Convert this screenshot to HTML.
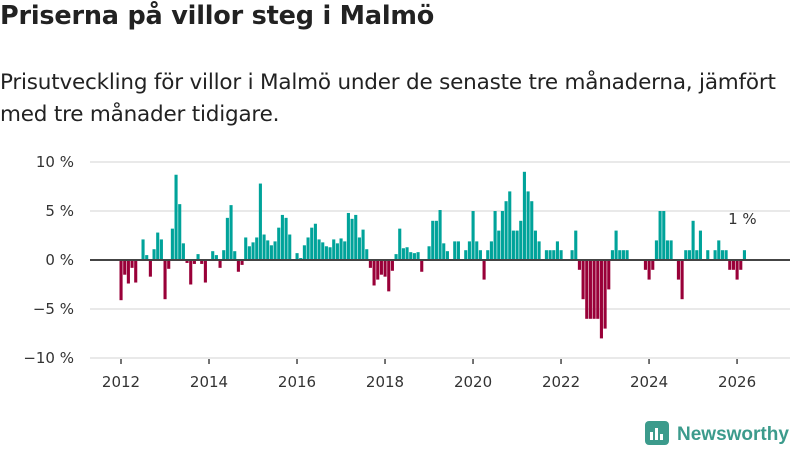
<!DOCTYPE html>
<html><head><meta charset="utf-8"><style>
body{margin:0;width:800px;height:450px;background:#fff;font-family:"DejaVu Sans","Liberation Sans",sans-serif;overflow:hidden;position:relative}
#t{position:absolute;left:0;top:1px;font-size:25.5px;font-weight:bold;color:#222;margin:0;letter-spacing:-0.2px}
#s{position:absolute;left:0;top:67px;font-size:21.5px;line-height:32px;color:#222;width:820px;letter-spacing:-0.2px}
svg{position:absolute;left:0;top:0}
</style></head><body>
<h1 id="t">Priserna på villor steg i Malmö</h1>
<div id="s">Prisutveckling för villor i Malmö under de senaste tre månaderna, jämfört<br>med tre månader tidigare.</div>
<svg id="c" width="800" height="450"></svg>
<script>
const values=[-4.1,-1.5,-2.4,-0.8,-2.3,0,2.1,0.5,-1.7,1.1,2.8,2.1,-4.0,-0.9,3.2,8.7,5.7,1.7,-0.3,-2.5,-0.4,0.6,-0.4,-2.3,0,0.9,0.5,-0.8,1.0,4.3,5.6,0.9,-1.2,-0.5,2.3,1.4,1.8,2.3,7.8,2.6,2.0,1.5,1.9,3.3,
4.6,4.3,2.6,0,0.7,0.2,1.5,2.3,3.3,3.7,2.1,1.8,1.4,1.3,2.1,1.7,2.2,1.9,4.8,4.2,4.6,2.3,3.1,1.1,-0.8,-2.6,-2.0,-1.5,-1.7,-3.2,-1.1,0.6,3.2,1.2,1.3,0.8,0.7,0.8,-1.2,0,1.4,4.0,4.0,5.1,
1.7,0.9,0,1.9,1.9,0,1.0,1.9,5.0,1.9,1.0,-2.0,1.0,1.9,5.0,3.0,5.0,6.0,7.0,3.0,3.0,4.0,9.0,7.0,6.0,3.0,1.9,0,1.0,1.0,1.0,1.9,1.0,0,0,1.0,3.0,-1.0,-4.0,-6,-6,-6,-6,-8,-7,-3,1,3,1,1,1,0,0,0,0,-1,-2,-1,2,5,5,2,2,0,-2,-4,1,1,4,1,3,0,1,0,1,2,1,1,-1,-1,-2,-1,1];
const startYear=2012;
const yTicks=[10,5,0,-5,-10];
const yTickLabels=["10 %","5 %","0 %","−5 %","−10 %"];
const xTickYears=[2012,2014,2016,2018,2020,2022,2024,2026];
const NS="http://www.w3.org/2000/svg";
const svg=document.getElementById('c');
const FF='DejaVu Sans, Liberation Sans, sans-serif';
const y=v=>260-v*9.8;
const x=m=>121+m*3.667;
function mk(tag,attrs,parent){const e=document.createElementNS(NS,tag);for(const k in attrs)e.setAttribute(k,attrs[k]);(parent||svg).appendChild(e);return e;}
yTicks.forEach((t,i)=>{
 const g=mk('line',{x1:90,x2:790,y1:y(t),y2:y(t),stroke:'#e2e2e2','stroke-width':1.5});
 
 
 const tx=mk('text',{x:74,y:y(t)+5,'text-anchor':'end','font-size':15,fill:'#333','font-family':FF});
 tx.textContent=yTickLabels[i];
 
 
});
values.forEach((v,i)=>{
 if(v===0)return;
 const r=mk('rect',{x:x(i)-1.5,width:3.1,y:Math.min(y(v),y(0)),height:Math.abs(y(v)-y(0)),fill:v>0?'#00a39a':'#990038'});
 
 
});
const z=mk('line',{x1:90,x2:790,y1:y(0),y2:y(0),stroke:'#444','stroke-width':2});


xTickYears.forEach(yr=>{
 const m=(yr-startYear)*12;
 const tk=mk('line',{x1:x(m),x2:x(m),y1:359,y2:364,stroke:'#444','stroke-width':1.5});
 
 
 const tx=mk('text',{x:x(m),y:387,'text-anchor':'middle','font-size':15,fill:'#333','font-family':FF});
 tx.textContent=yr;
 
 
});
const last=values.length-1;
const an=mk('text',{x:x(last)-2,y:y(values[last])-26,'text-anchor':'middle','font-size':15,fill:'#333','font-family':FF});
an.textContent=Math.round(values[last])+" %";


</script>
<svg width="800" height="450" style="pointer-events:none">
 <rect x="645" y="421" width="24" height="24" rx="4" fill="#3c9b8c"/>
 <rect x="650" y="432" width="3" height="8" fill="#fff"/><rect x="655" y="428" width="3" height="12" fill="#fff"/><rect x="660" y="434" width="3" height="6" fill="#fff"/>
 <text x="677" y="440" font-size="19" font-weight="bold" fill="#3c9b8c" font-family="Liberation Sans, sans-serif">Newsworthy</text>
</svg>
</body></html>
